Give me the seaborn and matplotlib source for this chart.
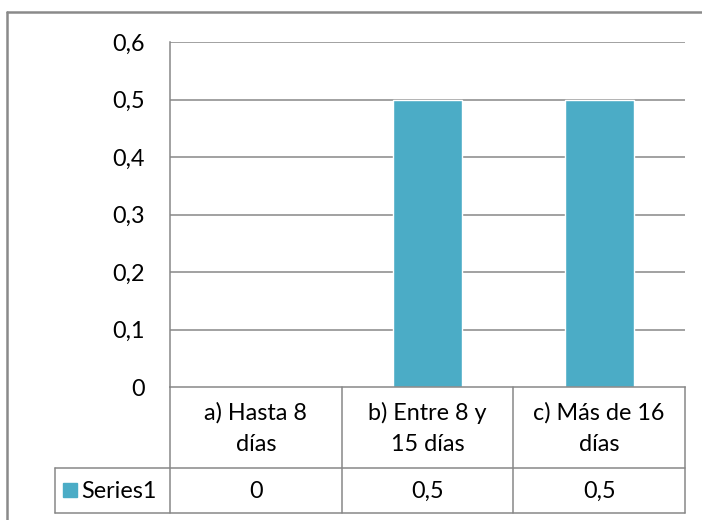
import matplotlib
matplotlib.use("Agg")
import matplotlib.pyplot as plt
from matplotlib.lines import Line2D
from matplotlib.patches import Rectangle
import seaborn as sns
import pandas as pd

categories = ["a) Hasta 8\ndías", "b) Entre 8 y\n15 días", "c) Más de 16\ndías"]
values = [0, 0.5, 0.5]
value_labels = ["0", "0,5", "0,5"]
series_name = "Series1"
y_ticks = [0, 0.1, 0.2, 0.3, 0.4, 0.5, 0.6]
y_tick_labels = ["0", "0,1", "0,2", "0,3", "0,4", "0,5", "0,6"]

BAR = "#4BACC6"
LINE = "#878787"
FONT = "Lato"
FS = 16.8

W, H = 702, 520
sns.set_theme(style="white")
plt.rcParams["font.family"] = [FONT, "DejaVu Sans"]

fig = plt.figure(figsize=(W / 100, H / 100), dpi=100)

def fx(x):
    return x / W

def fy(y):
    return 1 - y / H

# plot area
left, right, top, bottom = 170, 685, 42, 387
ax = fig.add_axes([fx(left), fy(bottom), fx(right) - fx(left), fy(top) - fy(bottom)])

df = pd.DataFrame({"cat": categories, "val": values})
sns.barplot(data=df, x="cat", y="val", color=BAR, width=0.4, saturation=1, ax=ax)
ax.set_xlim(-0.5, 2.5)
ax.set_ylim(0, 0.6)
ax.set_yticks(y_ticks)
ax.set_yticklabels(y_tick_labels, fontsize=FS, color="#000000")
ax.set_xticks([])
ax.set_xlabel("")
ax.set_ylabel("")
ax.tick_params(axis="y", length=0, pad=18)
for t in y_ticks[1:]:
    ax.axhline(t, color=LINE, lw=1.1, zorder=0)
for s in ["top", "right"]:
    ax.spines[s].set_visible(False)
for s in ["left", "bottom"]:
    ax.spines[s].set_color(LINE)
    ax.spines[s].set_linewidth(1.1)

def hline(y, x0, x1, lw=1.1, color=LINE):
    fig.add_artist(Line2D([fx(x0), fx(x1)], [fy(y), fy(y)], color=color, lw=lw))

def vline(x, y0, y1, lw=1.1, color=LINE):
    fig.add_artist(Line2D([fx(x), fx(x)], [fy(y0), fy(y1)], color=color, lw=lw))

# data table under the axis
row_y, table_bottom, key_left = 468, 513, 55
col_edges = [left + i * (right - left) / 3 for i in range(4)]
for x in col_edges:
    vline(x, bottom, table_bottom)
vline(key_left, row_y, table_bottom)
hline(row_y, key_left, right)
hline(table_bottom, key_left, right)

centers = [(col_edges[i] + col_edges[i + 1]) / 2 for i in range(3)]
for cx, cat, lab in zip(centers, categories, value_labels):
    fig.text(fx(cx), fy((bottom + row_y) / 2 + 1), cat, ha="center", va="center",
             fontsize=FS, linespacing=1.6, color="#000000")
    fig.text(fx(cx), fy((row_y + table_bottom) / 2 + 1), lab, ha="center", va="center",
             fontsize=FS, color="#000000")

# legend key of the table row
fig.add_artist(Rectangle((fx(63), fy(497)), fx(14), fy(483) - fy(497), color=BAR,
                         transform=fig.transFigure))
fig.text(fx(81), fy((row_y + table_bottom) / 2 + 1), series_name, ha="left", va="center",
         fontsize=FS, color="#000000")

# chart frame
vline(7, 12, H + 5, lw=1.8, color="#8a8a8a")
hline(12, 7, W + 5, lw=1.8, color="#8a8a8a")

fig.savefig("out.png", dpi=100)
